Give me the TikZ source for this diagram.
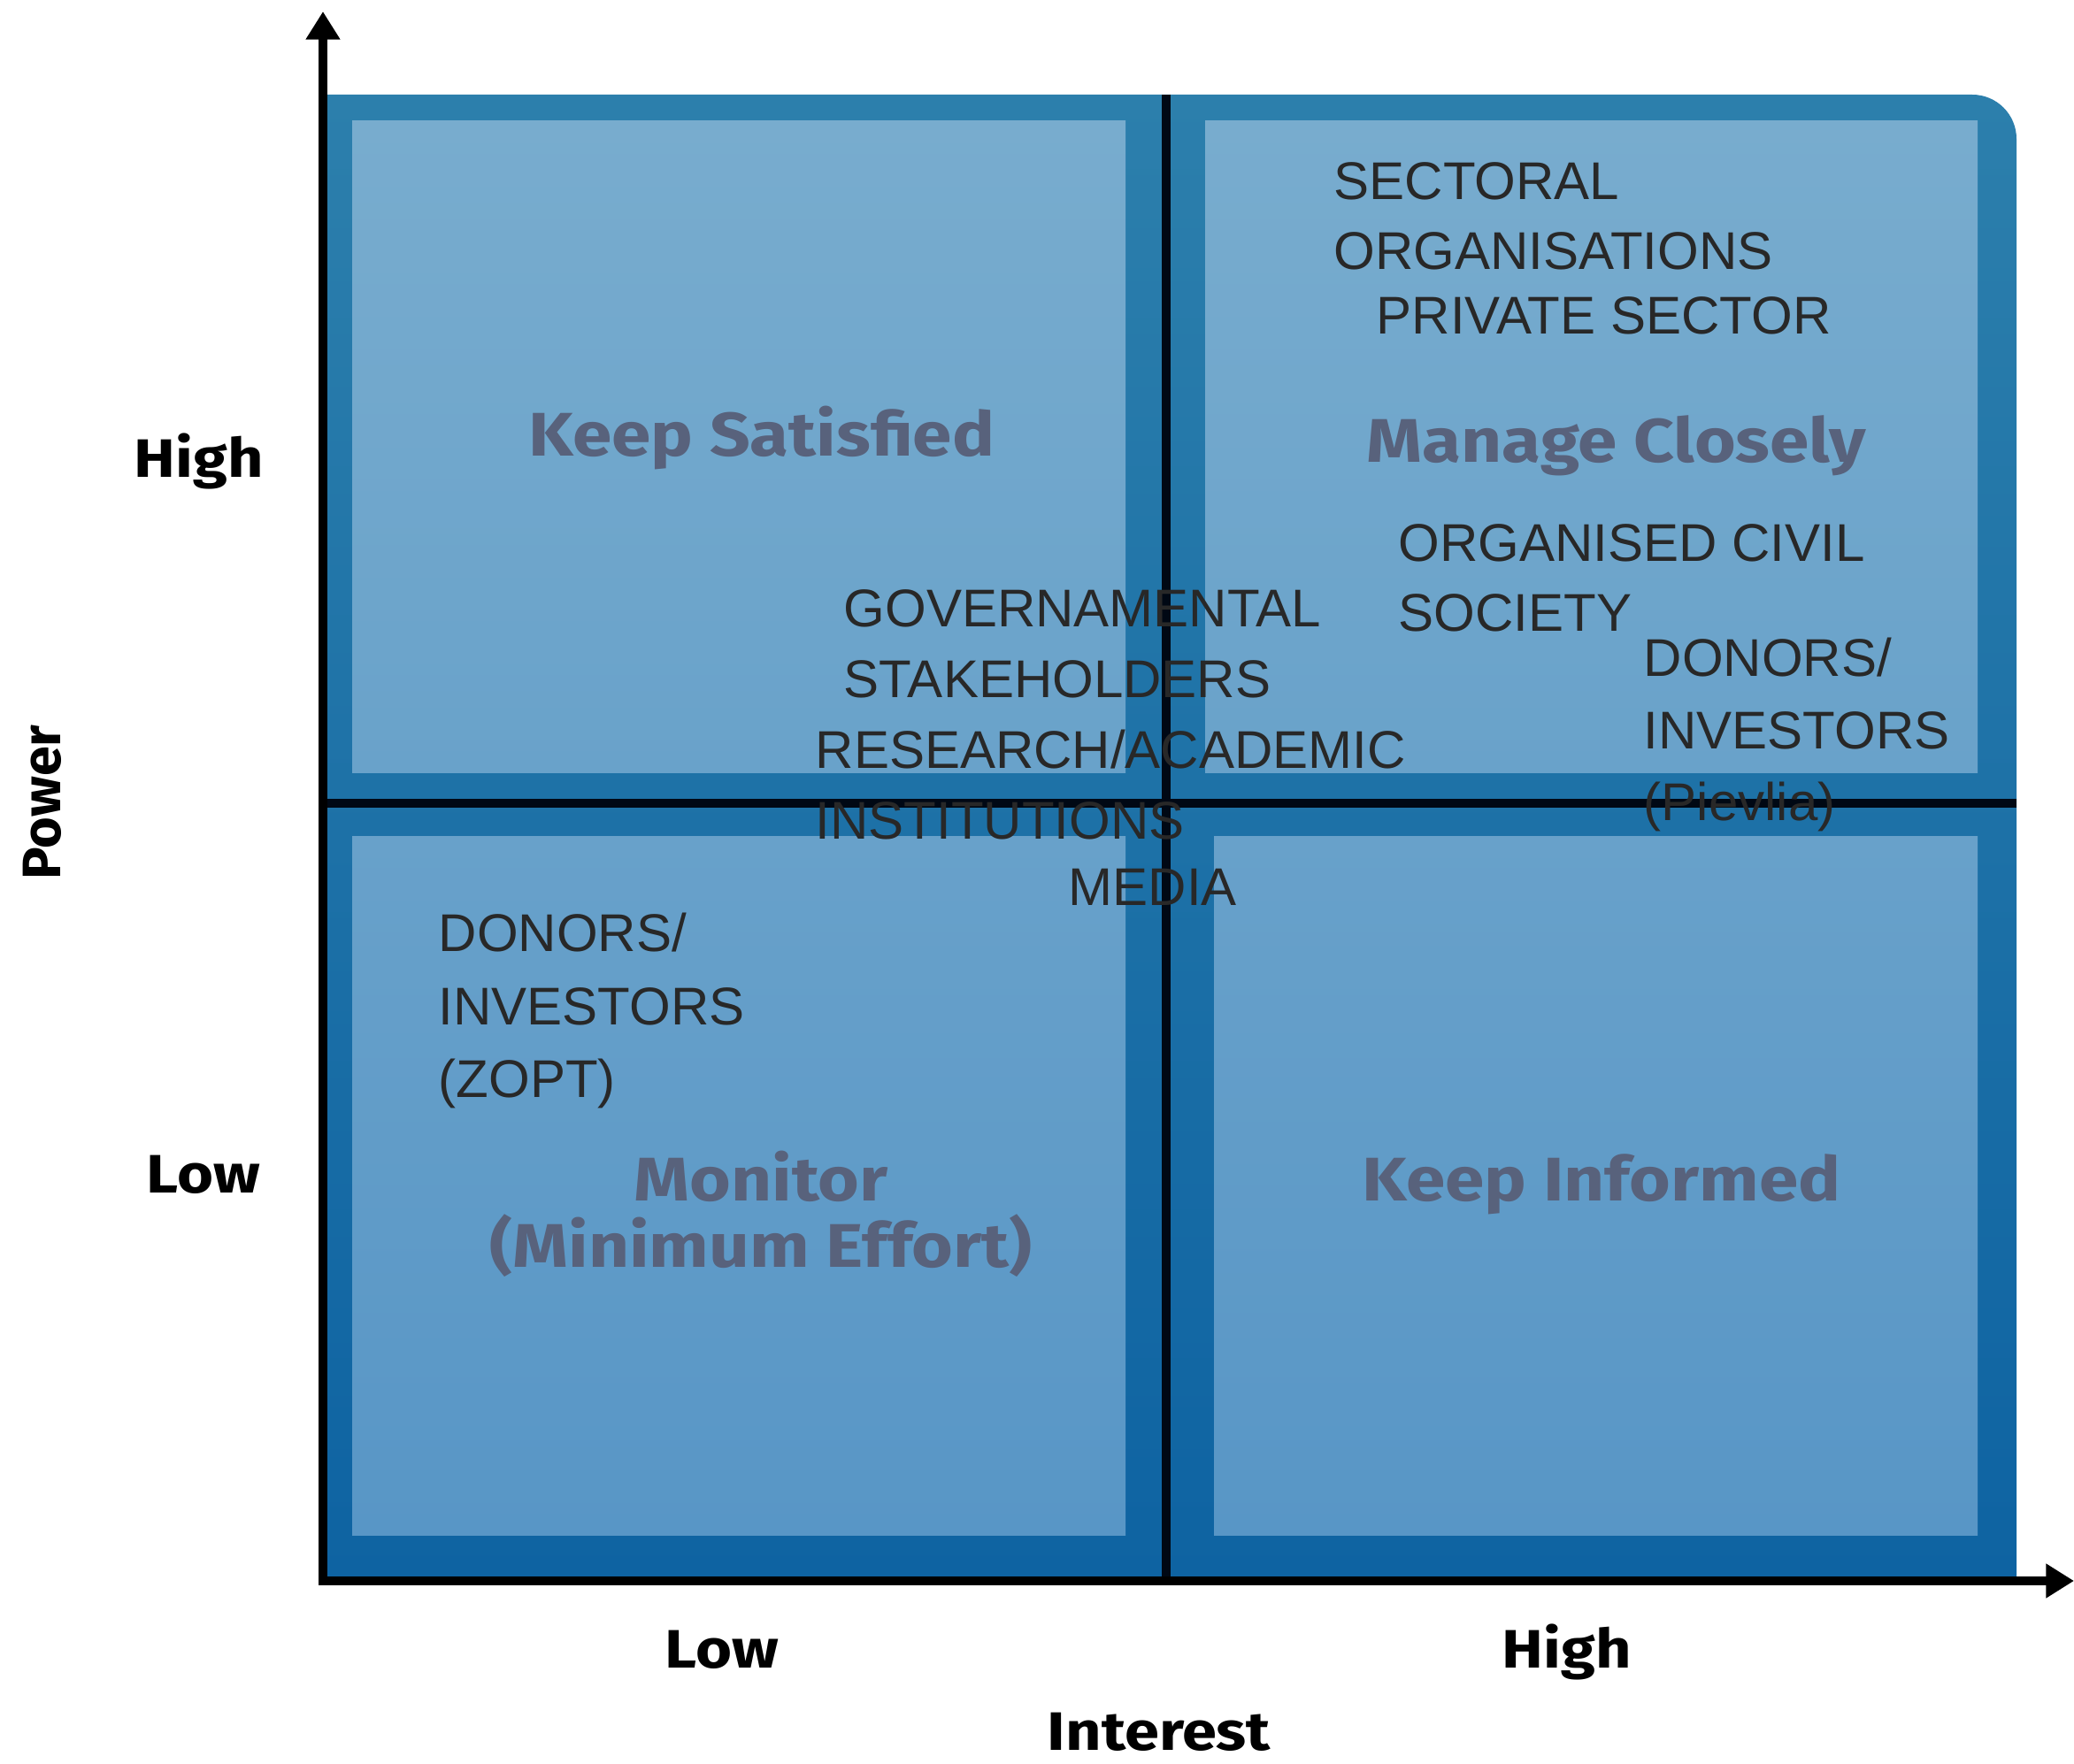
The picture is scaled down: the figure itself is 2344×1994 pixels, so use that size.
\documentclass[tikz,border=0pt]{standalone}
\usepackage{fontspec}
\setmainfont{Liberation Sans}
\newfontfamily\titlefont[FakeStretch=1.15]{Fira Sans}
\newfontfamily\plainaxisfont{Fira Sans}
\usetikzlibrary{arrows.meta}

\definecolor{bandtop}{HTML}{2C7FAC}
\definecolor{bandbot}{HTML}{0E63A2}
\definecolor{innertop}{HTML}{78ACCE}
\definecolor{innermidA}{HTML}{69A2CA}
\definecolor{innermidB}{HTML}{68A1CA}
\definecolor{innerbot}{HTML}{5896C6}
\definecolor{divline}{HTML}{000814}
\definecolor{stktext}{HTML}{282828}
\definecolor{titletext}{HTML}{58627C}

\tikzset{
  axisline/.style={line width=2.6pt, draw=black},
  divider/.style={line width=2.6pt, draw=divline},
  stake/.style={anchor=base west, inner sep=0pt, text=stktext,
    font=\fontsize{17.07}{20}\selectfont},
  quadtitle/.style={anchor=base, inner sep=0pt, text=titletext,
    font=\titlefont\bfseries\fontsize{19.8}{24}\selectfont},
  axislabel/.style={anchor=base, inner sep=0pt, text=black,
    font=\titlefont\bfseries\fontsize{17.4}{20}\selectfont},
  axisname/.style={anchor=base, inner sep=0pt, text=black,
    font=\plainaxisfont\bfseries\fontsize{17.4}{20}\selectfont},
}

\begin{document}
\begin{tikzpicture}[x=0.01cm, y=-0.01cm]
  \useasboundingbox (0,0) rectangle (2344,1994);

  % outer frame band, rounded only at the top right
  \shade[top color=bandtop, bottom color=bandbot]
    (365,1787) -- (365,107) -- (2200,107) [rounded corners=14.2pt]
    -- (2279,107) -- (2279,1000) [sharp corners] -- (2279,1787) -- cycle;

  % four lighter quadrant panels
  \shade[top color=innertop, bottom color=innermidA] (398,137) rectangle (1272,873);
  \shade[top color=innertop, bottom color=innermidA] (1362,137) rectangle (2235,873);
  \shade[top color=innermidB, bottom color=innerbot] (398,945) rectangle (1272,1735);
  \shade[top color=innermidB, bottom color=innerbot] (1372,945) rectangle (2235,1735);

  % quadrant dividers
  \coordinate (vtop) at (1318,107);
  \coordinate (vbot) at (1318,1787);
  \coordinate (hleft) at (365,908);
  \coordinate (hright) at (2279,908);
  \draw[divider] (vtop) -- (vbot);
  \draw[divider] (hleft) -- (hright);

  % axes
  \coordinate (origin) at (365,1787);
  \coordinate (ytip) at (365,13);
  \coordinate (xtip) at (2344,1787);
  \draw[axisline, {Triangle[length=9pt,width=10.5pt]}-{Triangle[length=9pt,width=10.5pt]}]
    (ytip) -- (origin) -- (xtip);

  % axis labels
  \node[axislabel] (yhigh) at (225,540) {High};
  \node[axislabel] (ylow) at (230,1348) {Low};
  \node[axislabel] (xlow) at (816,1885) {Low};
  \node[axislabel] (xhigh) at (1771,1885) {High};
  \node[axislabel] (xname) at (1310,1978) {Interest};
  \node[axisname, rotate=90] (yname) at (68,907) {Power};

  % quadrant titles
  \node[quadtitle] (qks) at (861,515) {Keep Satisfied};
  \node[quadtitle] (qmc) at (1827,522) {Manage Closely};
  \node[quadtitle] (qmo) at (860,1357) {Monitor};
  \node[quadtitle] (qme) at (860,1432) {(Minimum Effort)};
  \node[quadtitle] (qki) at (1810,1357) {Keep Informed};

  % stakeholders
  \node[stake] (sec1) at (1507,226) {SECTORAL};
  \node[stake] (sec2) at (1507,305) {ORGANISATIONS};
  \node[stake] (priv) at (1555,377) {PRIVATE SECTOR};
  \node[stake] (civ1) at (1580,634) {ORGANISED CIVIL};
  \node[stake] (civ2) at (1580,713) {SOCIETY};
  \node[stake] (dpa) at (1857,764) {DONORS/};
  \node[stake] (dpb) at (1857,846) {INVESTORS};
  \node[stake] (dpc) at (1857,927) {(Pievlia)};
  \node[stake] (gov1) at (953,708) {GOVERNAMENTAL};
  \node[stake] (gov2) at (953,788) {STAKEHOLDERS};
  \node[stake] (res1) at (921,868) {RESEARCH/ACADEMIC};
  \node[stake] (res2) at (921,948) {INSTITUTIONS};
  \node[stake] (media) at (1207,1023) {MEDIA};
  \node[stake] (dza) at (495,1075) {DONORS/};
  \node[stake] (dzb) at (495,1158) {INVESTORS};
  \node[stake] (dzc) at (495,1240) {(ZOPT)};
\end{tikzpicture}
\end{document}
